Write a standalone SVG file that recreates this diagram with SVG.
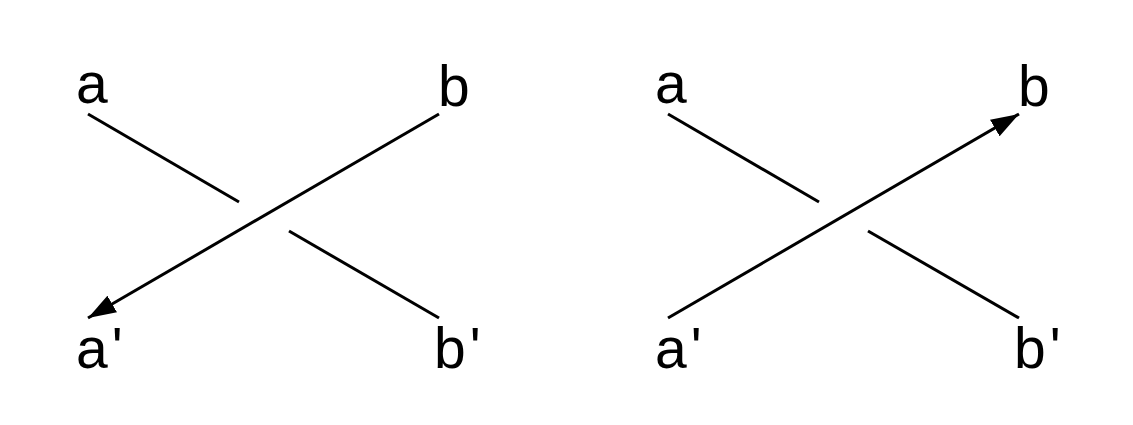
<svg xmlns="http://www.w3.org/2000/svg" width="1133" height="425" viewBox="0 0 1133 425">
<style>
.lbl{font-family:"Liberation Sans",Arial,sans-serif;font-size:57px;fill:#000}
.ln{stroke:#000;stroke-width:3;fill:none}
</style>
<defs>
<marker id="ah" markerUnits="userSpaceOnUse" markerWidth="30" markerHeight="20" refX="28" refY="9.5" orient="auto" viewBox="0 0 30 19">
<path d="M0,0 L28,9.5 L0,19 Z" fill="#000"/>
</marker>
</defs>
<rect width="1133" height="425" fill="#fff"/>
<g id="connectors">
<line class="ln" x1="88" y1="114" x2="239" y2="202"/>
<line class="ln" x1="439" y1="114" x2="88" y2="318" marker-end="url(#ah)"/>
<line class="ln" x1="289" y1="231" x2="439" y2="318"/>
<line class="ln" x1="668" y1="114" x2="819" y2="202"/>
<line class="ln" x1="668" y1="318" x2="1019" y2="114" marker-end="url(#ah)"/>
<line class="ln" x1="868" y1="231" x2="1019" y2="318"/>
</g>
<g id="left-a"><text class="lbl" x="76" y="103">a</text></g>
<g id="left-b"><text class="lbl" x="438" y="106">b</text></g>
<g id="left-a2"><text class="lbl" x="76" y="368">a<tspan dx="4">'</tspan></text></g>
<g id="left-b2"><text class="lbl" x="434" y="368">b<tspan dx="4">'</tspan></text></g>
<g id="right-a"><text class="lbl" x="655" y="103">a</text></g>
<g id="right-b"><text class="lbl" x="1018" y="106">b</text></g>
<g id="right-a2"><text class="lbl" x="655" y="368">a<tspan dx="4">'</tspan></text></g>
<g id="right-b2"><text class="lbl" x="1014" y="368">b<tspan dx="4">'</tspan></text></g>
</svg>
